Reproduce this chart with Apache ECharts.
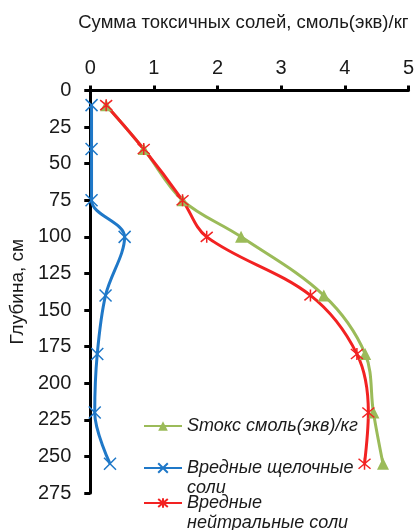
<!DOCTYPE html>
<html><head><meta charset="utf-8">
<script src="https://cdn.jsdelivr.net/npm/echarts@6/dist/echarts.min.js"></script>
<style>html,body{margin:0;padding:0;background:#fff}#c{width:417px;height:530px}</style>
</head><body><div id="c"></div>
<script>
const depths = [10, 40, 75, 100, 140, 180, 220, 255];
const stoks = [0.25, 0.84, 1.45, 2.37, 3.67, 4.32, 4.45, 4.60];
const alkaline = [0.02, 0.02, 0.02, 0.54, 0.24, 0.11, 0.07, 0.31];
const neutral = [0.25, 0.84, 1.45, 1.83, 3.46, 4.19, 4.37, 4.31];
const seriesNames = ['Sтокс смоль(экв)/кг', 'Вредные щелочные\nсоли', 'Вредные\nнейтральные соли'];
const xTitle = 'Сумма токсичных солей, смоль(экв)/кг';
const yTitle = 'Глубина, см';

const GREEN = '#9bbb59', BLUE = '#1f78c8', RED = '#f22222';
const pairs = vals => vals.map((v, i) => [v, depths[i]]);
const font = "'Liberation Sans', Arial, sans-serif";

const chart = echarts.init(document.getElementById('c'), null, {renderer: 'canvas'});
const legendBase = {
  orient: 'vertical', left: 143, padding: 0, itemWidth: 38, itemHeight: 12,
  selectedMode: false,
  textStyle: {fontFamily: font, fontSize: 18, fontStyle: 'italic', color: '#1a1a1a', lineHeight: 20}
};
chart.setOption({
  animation: false,
  grid: {left: 86, right: 8, top: 90.5, bottom: 37},
  legend: [
    Object.assign({}, legendBase, {top: 416, data: [seriesNames[0]]}),
    Object.assign({}, legendBase, {top: 438, data: [seriesNames[1]], formatter: n => '\n' + n}),
    Object.assign({}, legendBase, {top: 473, data: [seriesNames[2]], formatter: n => '\n' + n})
  ],
  xAxis: {
    type: 'value', position: 'top', min: 0, max: 5, interval: 1,
    name: xTitle, nameLocation: 'middle', nameGap: 58,
    nameTextStyle: {fontFamily: font, fontSize: 18.5, color: '#1a1a1a', padding: [0, 12, 0, 0]},
    axisLine: {show: true, onZero: false, lineStyle: {color: '#000', width: 3}},
    axisTick: {show: true, length: 5, lineStyle: {color: '#000', width: 3}},
    axisLabel: {fontFamily: font, fontSize: 20, color: '#1a1a1a', margin: 12},
    splitLine: {show: false}
  },
  yAxis: {
    type: 'value', inverse: true, min: 0, max: 275, interval: 25,
    name: yTitle, nameLocation: 'middle', nameGap: 58, nameRotate: 90,
    nameTextStyle: {fontFamily: font, fontSize: 19, color: '#1a1a1a'},
    axisLine: {show: true, onZero: false, lineStyle: {color: '#000', width: 3}},
    axisTick: {show: true, length: 6, lineStyle: {color: '#000', width: 3}},
    axisLabel: {fontFamily: font, fontSize: 20, color: '#1a1a1a', margin: 19},
    splitLine: {show: false}
  },
  series: [
    {name: seriesNames[0], type: 'line', smooth: 0.35, data: pairs(stoks),
     symbol: 'triangle', symbolSize: 12,
     lineStyle: {color: GREEN, width: 3}, itemStyle: {color: GREEN}},
    {name: seriesNames[1], type: 'line', smooth: 0.35, data: pairs(alkaline),
     symbol: 'path://M0,0L10,10M10,0L0,10', symbolSize: 12,
     lineStyle: {color: BLUE, width: 3}, itemStyle: {color: BLUE, borderColor: BLUE, borderWidth: 1.5}},
    {name: seriesNames[2], type: 'line', smooth: 0.35, data: pairs(neutral),
     symbol: 'path://M0,0L10,10M10,0L0,10M5,-1L5,11', symbolSize: 12,
     lineStyle: {color: RED, width: 3}, itemStyle: {color: RED, borderColor: RED, borderWidth: 1.5}}
  ]
});
</script></body></html>
